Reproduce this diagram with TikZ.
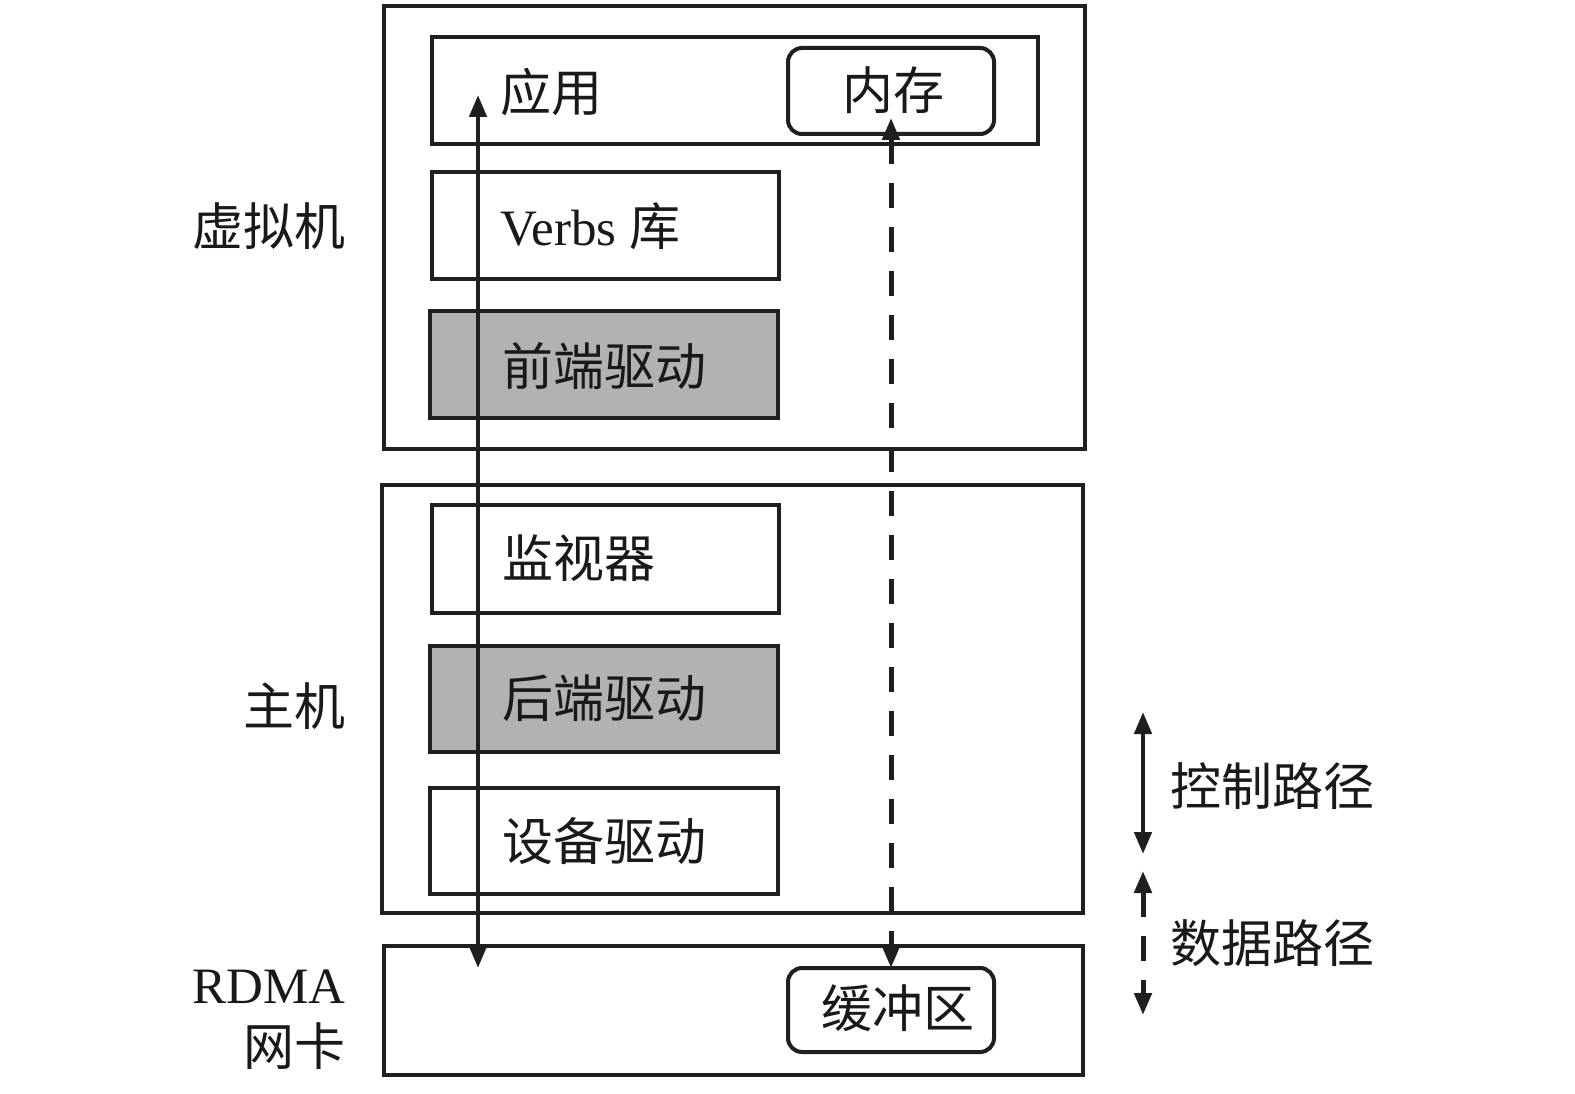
\documentclass[tikz,border=0pt]{standalone}
\usepackage{fontspec}
\setmainfont{Liberation Serif}
\newfontfamily\cjk{Noto Sans CJK SC}
\usetikzlibrary{arrows.meta}
\definecolor{boxgray}{HTML}{B2B2B2}
\tikzset{
  frame/.style={draw=black!88, line width=4pt, anchor=north west, inner sep=0pt, outer sep=0pt},
  layer/.style={frame},
  grayl/.style={frame, fill=boxgray},
  rbox/.style={frame, rounded corners=14pt},
  txt/.style={font=\fontsize{51}{58}\selectfont\cjk, inner sep=0pt, text=black!90},
  lat/.style={font=\fontsize{51}{58}\selectfont, inner sep=0pt, text=black!90},
  path/.style={line width=4.5pt, draw=black!88, {Triangle[width=17pt,length=22pt]}-{Triangle[width=17pt,length=22pt]}},
  dpath/.style={path, line width=5pt, dash pattern=on 25pt off 19pt},
}
\begin{document}
\begin{tikzpicture}[x=1pt,y=-1pt]
\useasboundingbox[fill=white] (0,0) rectangle (1575,1094);
% outer frames
\node[frame, minimum width=701pt, minimum height=443pt] (vm) at (384,6) {};
\node[frame, minimum width=701pt, minimum height=428pt] (host) at (382,485) {};
\node[frame, minimum width=699pt, minimum height=129pt] (nic) at (384,946) {};
% VM layers
\node[layer, minimum width=606pt, minimum height=107pt] (app) at (432,37) {};
\node[rbox, minimum width=206pt, minimum height=86pt] (mem) at (788,48) {};
\node[layer, minimum width=347pt, minimum height=107pt] (verbs) at (432,172) {};
\node[grayl, minimum width=348pt, minimum height=107pt] (front) at (430,311) {};
% host layers
\node[layer, minimum width=347pt, minimum height=108pt] (mon) at (432,505) {};
\node[grayl, minimum width=348pt, minimum height=106pt] (back) at (430,646) {};
\node[layer, minimum width=348pt, minimum height=106pt] (dev) at (430,788) {};
% NIC
\node[rbox, minimum width=206pt, minimum height=84pt] (buf) at (788,968) {};
% texts
\node[txt, anchor=west] (tapp) at (500,92) {应用};
\node[txt] (tmem) at (893,90) {内存};
\node[lat, anchor=west] (tverbs) at (500,226) {Verbs \cjk 库};
\node[txt, anchor=west] (tfront) at (502,366) {前端驱动};
\node[txt, anchor=west] (tmon) at (502,558) {监视器};
\node[txt, anchor=west] (tback) at (502,698) {后端驱动};
\node[txt, anchor=west] (tdev) at (502,841) {设备驱动};
\node[txt] (tbuf) at (898,1008) {缓冲区};
% side labels
\node[txt, anchor=east] (lvm) at (346,226) {虚拟机};
\node[txt, anchor=east] (lhost) at (346,706) {主机};
\node[lat, anchor=east] (lrdma) at (346,987) {RDMA};
\node[txt, anchor=east] (lnic) at (346,1046) {网卡};
% paths
\coordinate (ctop) at (478,95);
\coordinate (cbot) at (478,968);
\draw[path] (ctop) -- (cbot);
\coordinate (dtop) at (891,118);
\coordinate (dbot) at (891,968);
\draw[dpath] (dtop) -- (dbot);
% legend
\coordinate (lc1) at (1143,712);
\coordinate (lc2) at (1143,854);
\draw[path] (lc1) -- (lc2);
\coordinate (ld1) at (1143,871);
\coordinate (ld2) at (1143,1015);
\draw[dpath] (ld1) -- (ld2);
\node[txt, anchor=west] (tctrl) at (1170,786) {控制路径};
\node[txt, anchor=west] (tdata) at (1170,943) {数据路径};
\end{tikzpicture}
\end{document}
